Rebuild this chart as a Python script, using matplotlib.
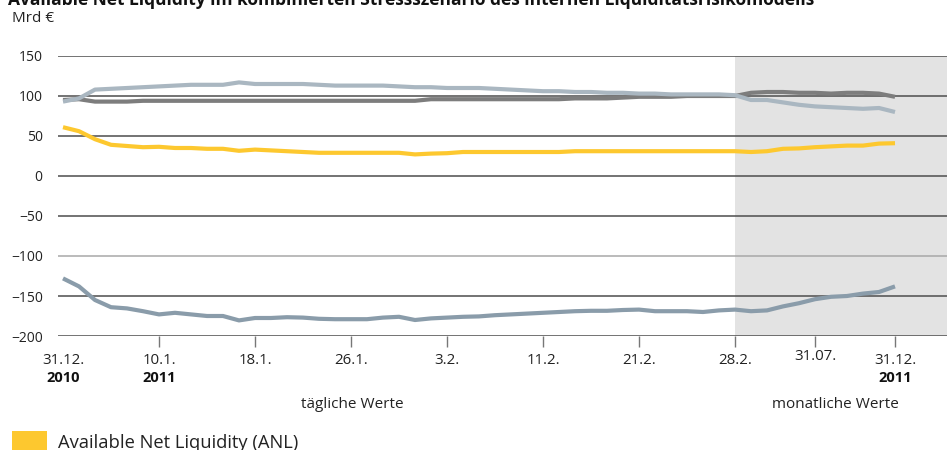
import matplotlib

matplotlib.use("Agg", force=True)
import matplotlib.pyplot as plt
import matplotlib.transforms as mtransforms
from matplotlib.patches import Rectangle
import numpy as np

# ---- data (Mrd €), 43 daily values 31.12.2010 - 28.2.2011, then monthly Mar - Dec 2011
series_light = [93, 97, 108, 109, 110, 111, 112, 113, 114, 114, 114, 117, 115, 115, 115, 115,
                114, 113, 113, 113, 113, 112, 111, 111, 110, 110, 110, 109, 108, 107, 106, 106,
                105, 105, 104, 104, 103, 103, 102, 102, 102, 102, 101,
                95, 95, 92, 89, 87, 86, 85, 84, 85, 80]
series_dark = [95, 96, 93, 93, 93, 94, 94, 94, 94, 94, 94, 94, 94, 94, 94, 94,
               94, 94, 94, 94, 94, 94, 94, 96, 96, 96, 96, 96, 96, 96, 96, 96,
               97, 97, 97, 98, 99, 99, 99, 100, 100, 100, 100,
               104, 105, 105, 104, 104, 103, 104, 104, 103, 99]
series_anl = [61, 56, 46, 39, 37.5, 36, 36.5, 35, 35, 34, 34, 31.5, 33, 32, 31, 30,
              29, 29, 29, 29, 29, 29, 27, 28, 28.5, 30, 30, 30, 30, 30, 30, 30,
              31, 31, 31, 31, 31, 31, 31, 31, 31, 31, 31,
              30, 31, 34, 34.5, 36, 37, 38, 38, 40.5, 41]
series_bottom = [-128, -138, -155, -164, -165.5, -169, -173, -171, -173, -175, -175, -180.5,
                 -177.5, -177.5, -176.5, -177, -178.5, -179, -179, -179, -177, -176, -180,
                 -178, -177, -176, -175.5, -174, -173, -172, -171, -170, -169, -168.5,
                 -168.5, -167.5, -167, -169, -169, -169, -170, -168, -167,
                 -169, -168, -163, -159, -154, -151, -150, -147, -145, -138]

tick_index = [6, 12, 18, 24, 30, 36, 42, 47, 52]
label_index = [0, 6, 12, 18, 24, 30, 36, 42, 47, 52]
tick_labels = ["31.12.", "10.1.", "18.1.", "26.1.", "3.2.", "11.2.", "21.2.", "28.2.", "31.07.", "31.12."]
year_index = [0, 6, 52]
year_labels = ["2010", "2011", "2011"]
monthly_start = 42
y_ticks = [150, 100, 50, 0, -50, -100, -150, -200]

FONT = "Open Sans"
plt.rcParams["font.family"] = [FONT, "DejaVu Sans"]
TEXT = "#222222"

x = np.arange(len(series_anl))

fig = plt.figure(figsize=(9.47, 4.5), dpi=100)
ax = fig.add_axes([58 / 947, 114 / 450, 889 / 947, 280 / 450])
ax.set_xlim(-0.3125, 55.25)
ax.set_ylim(-200, 150)

ax.axvspan(monthly_start, 60, color="#e3e3e3", lw=0, zorder=0)
for val in y_ticks:
    color = "#a8a8a8" if val == -100 else "#4d4d4d"
    ax.axhline(val, color=color, lw=1.1, zorder=1)

ax.plot(x, series_dark, color="#7d7d7d", lw=3, solid_capstyle="butt", zorder=3)
ax.plot(x, series_light, color="#aab7c1", lw=3, solid_capstyle="butt", zorder=3)
ax.plot(x, series_anl, color="#fdc82f", lw=3, solid_capstyle="butt", zorder=3)
ax.plot(x, series_bottom, color="#8a9caa", lw=3, solid_capstyle="butt", zorder=3)

for side in ["top", "right", "left", "bottom"]:
    ax.spines[side].set_visible(False)

ax.set_yticks(y_ticks)
ax.set_yticklabels([f"{v}".replace("-", "\u2212") for v in y_ticks], fontsize=10, color=TEXT)
ax.tick_params(axis="y", length=0, pad=11)
ax.set_xticks(tick_index)
ax.set_xticklabels([])
ax.tick_params(axis="x", length=8, width=1, color="#777777", direction="out")

trans = mtransforms.blended_transform_factory(ax.transData, fig.transFigure)
for idx, lab in zip(label_index, tick_labels):
    ypix = 357 if lab == "31.07." else 360
    ax.text(idx, 1 - ypix / 450, lab, transform=trans, ha="center", va="center",
            fontsize=10.8, color=TEXT)
for idx, lab in zip(year_index, year_labels):
    ax.text(idx, 1 - 378 / 450, lab, transform=trans, ha="center", va="center",
            fontsize=10.5, fontweight="bold", color="#111111")

fig.text(352 / 947, 1 - 405 / 450, "tägliche Werte", ha="center", va="center", fontsize=11, color=TEXT)
fig.text(835 / 947, 1 - 405 / 450, "monatliche Werte", ha="center", va="center", fontsize=11, color=TEXT)

fig.text(8 / 947, 1.0, "Available Net Liquidity im kombinierten Stressszenario des internen Liquiditätsrisikomodells",
         ha="left", va="center", fontsize=12.5, fontweight="bold", color="#111111")
fig.text(12 / 947, 1 - 18 / 450, "Mrd €", ha="left", va="center", fontsize=11, color=TEXT)

fig.patches.append(Rectangle((12 / 947, 0), 35 / 947, 19 / 450, transform=fig.transFigure,
                             facecolor="#fdc82f", edgecolor="none"))
fig.text(58 / 947, 2 / 450, "Available Net Liquidity (ANL)", ha="left", va="baseline",
         fontsize=13.2, color=TEXT)

fig.savefig("out.png", dpi=100)
plt.close(fig)
